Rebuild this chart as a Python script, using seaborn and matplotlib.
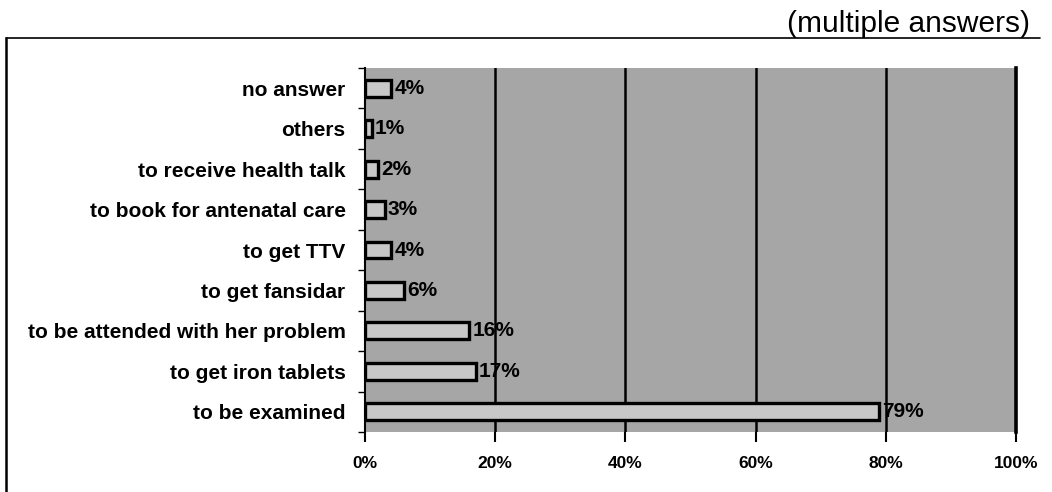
import matplotlib
matplotlib.use("Agg")
import matplotlib.pyplot as plt
import seaborn as sns
import pandas as pd
from matplotlib.lines import Line2D

# data, top to bottom as in the chart
reasons = [
    "no answer", "others", "to receive health talk", "to book for antenatal care",
    "to get TTV", "to get fansidar", "to be attended with her problem",
    "to get iron tablets", "to be examined",
]
shares = [4, 1, 2, 3, 4, 6, 16, 17, 79]
x_ticks = [0, 20, 40, 60, 80, 100]
note = "(multiple answers)"

df = pd.DataFrame({"reason": reasons, "share": shares})

sns.set_style("white")
plt.rcParams["font.family"] = ["Liberation Sans", "DejaVu Sans"]
plt.rcParams["text.color"] = "black"
plt.rcParams["xtick.color"] = "black"
plt.rcParams["ytick.color"] = "black"

fig = plt.figure(figsize=(10.52, 4.92), dpi=100)
ax = fig.add_axes([365 / 1052, 1 - 432 / 492, 651 / 1052, 364 / 492])
ax.set_facecolor("#a6a6a6")

sns.barplot(data=df, x="share", y="reason", orient="h", color="#c8c8c8",
            edgecolor="black", linewidth=2.4, width=0.42, ax=ax, zorder=3)

ax.set_xlim(0, 100)
ax.set_ylim(len(reasons) - 0.5, -0.5)
ax.set_xticks(x_ticks)
ax.set_xticklabels([f"{t}%" for t in x_ticks], fontweight="bold", fontsize=12.5)
for t in x_ticks[1:-1]:
    ax.axvline(t, color="black", lw=1.8, zorder=2)

ax.set_yticks(range(len(reasons)))
ax.set_yticklabels(reasons, fontsize=15, fontweight="bold")
ax.tick_params(axis="y", length=0, pad=14)
ax.tick_params(axis="x", length=7, width=1.5, pad=10, bottom=True)
# small ticks on the band edges of the category axis
ax.set_yticks([i - 0.5 for i in range(len(reasons) + 1)], minor=True)
ax.tick_params(axis="y", which="minor", length=5, width=1, left=True)

ax.set_xlabel("")
ax.set_ylabel("")
for side in ["top", "bottom"]:
    ax.spines[side].set_visible(False)
ax.spines["left"].set_color("black")
ax.spines["left"].set_linewidth(1.5)
ax.spines["right"].set_color("black")
ax.spines["right"].set_linewidth(2.6)

for i, v in enumerate(shares):
    ax.text(v + 0.5, i, f"{v}%", va="center", ha="left", fontsize=15, fontweight="bold", zorder=4)

# outer frame pieces and note
fig.add_artist(Line2D([6 / 1052, 1040 / 1052], [1 - 38 / 492] * 2, color="black", lw=1.2))
fig.add_artist(Line2D([6 / 1052] * 2, [0, 1 - 38 / 492], color="black", lw=1.8))
fig.text(1030 / 1052, 1 - 32 / 492, note, ha="right", va="baseline", fontsize=21.5)

fig.savefig("out.png", dpi=100)
